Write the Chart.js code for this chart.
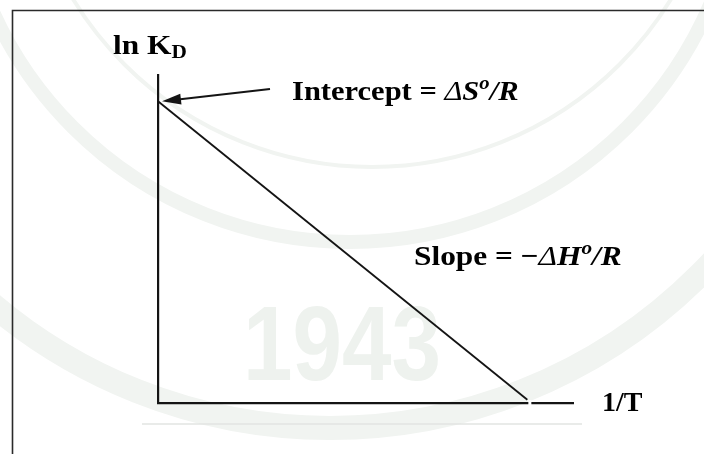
<!DOCTYPE html>
<html lang="en">

<head>
    <meta charset="UTF-8">
    <meta name="viewport" content="width=device-width, initial-scale=1.0">
    <title>van't Hoff plot</title>
    <script src="https://cdn.jsdelivr.net/npm/chart.js"></script>
    <style>
        body { margin: 0; background: #fff; }
        canvas { display: block; }
    </style>
</head>

<body>
    <canvas id="vantHoff" width="704" height="454"></canvas>

    <script>
        // ln KD against 1/T: straight line from the intercept down to the 1/T axis
        const invT = [0, 8.9];
        const lnKD = [9.2, 0.1];
        const xRange = [0, 10];
        const yRange = [0, 10];

        const serif = '"Liberation Serif", "Times New Roman", serif';
        const ink = '#141414';

        // draw a row of text pieces with their own style, sup/sub handled by size + offset
        // stretch widens the glyphs a little, the labels are set wide
        function drawRuns(ctx, x, y, runs, size, stretch) {
            ctx.save();
            ctx.translate(x, y);
            ctx.scale(stretch || 1, 1);
            let cx = 0;
            runs.forEach(r => {
                const small = r.sup || r.sub;
                const s = small ? Math.round(size * 0.68) : size;
                ctx.font = r.style + ' ' + s + 'px ' + serif;
                const dy = r.sup ? -size * 0.4 : (r.sub ? size * 0.16 : 0);
                ctx.fillText(r.text, cx, dy);
                cx += ctx.measureText(r.text).width + (r.gap || 0);
            });
            ctx.restore();
        }

        // faint seal in the page background
        const watermark = {
            id: 'watermark',
            beforeDraw(chart) {
                const ctx = chart.ctx;
                ctx.save();
                ctx.strokeStyle = '#f1f4f1';
                ctx.lineWidth = 24;
                ctx.beginPath();
                ctx.arc(330, -95, 523, 0, Math.PI);
                ctx.stroke();
                ctx.lineWidth = 14;
                ctx.beginPath();
                ctx.arc(350, -150, 392, 0, Math.PI);
                ctx.stroke();
                ctx.lineWidth = 4;
                ctx.beginPath();
                ctx.arc(372, -183, 350, 0, Math.PI);
                ctx.stroke();
                ctx.fillStyle = '#eef2ee';
                ctx.font = 'bold 106px "Liberation Sans", sans-serif';
                ctx.translate(243, 380);
                ctx.scale(0.84, 1);
                ctx.fillText('1943', 0, 0);
                ctx.restore();
            }
        };

        // frame, arrow and the text labels
        const labels = {
            id: 'labels',
            afterDraw(chart) {
                const ctx = chart.ctx;
                const x = chart.scales.x, y = chart.scales.y;
                ctx.save();

                // small break in the 1/T axis just past the end of the line
                const endX = x.getPixelForValue(invT[1]);
                ctx.fillStyle = '#fff';
                ctx.fillRect(endX + 1, y.bottom - 3, 3, 6);

                // outer frame (only top and left fall inside the page)
                ctx.strokeStyle = '#2a2a2a';
                ctx.lineWidth = 1.6;
                ctx.beginPath();
                ctx.moveTo(12.5, 454);
                ctx.lineTo(12.5, 10.5);
                ctx.lineTo(704, 10.5);
                ctx.stroke();

                // pale rule under the x axis
                ctx.strokeStyle = '#e2e5e2';
                ctx.lineWidth = 1.5;
                ctx.beginPath();
                ctx.moveTo(142, 424);
                ctx.lineTo(582, 424);
                ctx.stroke();

                // arrow pointing at the intercept
                const tipX = x.getPixelForValue(invT[0]) + 4;
                const tipY = y.getPixelForValue(lnKD[0]);
                const tailX = 270, tailY = 89;
                const ang = Math.atan2(tailY - tipY, tailX - tipX);
                ctx.strokeStyle = ink;
                ctx.fillStyle = ink;
                ctx.lineWidth = 2;
                ctx.beginPath();
                ctx.moveTo(tailX, tailY);
                ctx.lineTo(tipX + 14 * Math.cos(ang), tipY + 14 * Math.sin(ang));
                ctx.stroke();
                ctx.beginPath();
                ctx.moveTo(tipX, tipY);
                ctx.lineTo(tipX + 19 * Math.cos(ang) - 5.5 * Math.sin(ang), tipY + 19 * Math.sin(ang) + 5.5 * Math.cos(ang));
                ctx.lineTo(tipX + 19 * Math.cos(ang) + 5.5 * Math.sin(ang), tipY + 19 * Math.sin(ang) - 5.5 * Math.cos(ang));
                ctx.closePath();
                ctx.fill();

                ctx.fillStyle = '#000';
                ctx.textBaseline = 'alphabetic';
                drawRuns(ctx, 113, 54, [
                    { text: 'ln K', style: 'bold' },
                    { text: 'D', style: 'bold', sub: true }
                ], 28, 1.12);
                drawRuns(ctx, 292, 100, [
                    { text: 'Intercept = ', style: 'bold' },
                    { text: 'Δ', style: 'italic' },
                    { text: 'S', style: 'bold italic' },
                    { text: 'o', style: 'bold italic', sup: true },
                    { text: '/R', style: 'bold italic' }
                ], 28, 1.09);
                drawRuns(ctx, 414, 265, [
                    { text: 'Slope = ', style: 'bold' },
                    { text: '\u2212', style: 'bold' },
                    { text: 'Δ', style: 'italic' },
                    { text: 'H', style: 'bold italic' },
                    { text: 'o', style: 'bold italic', sup: true },
                    { text: '/R', style: 'bold italic' }
                ], 28, 1.12);
                drawRuns(ctx, 602, 411, [
                    { text: '1/T', style: 'bold' }
                ], 28, 1);
                ctx.restore();
            }
        };

        const ctx = document.getElementById('vantHoff').getContext('2d');
        new Chart(ctx, {
            type: 'line',
            data: {
                datasets: [{
                    data: invT.map((v, i) => ({ x: v, y: lnKD[i] })),
                    borderColor: ink,
                    borderWidth: 1.8,
                    pointRadius: 0,
                    tension: 0,
                    fill: false
                }]
            },
            options: {
                responsive: false,
                animation: false,
                layout: { padding: { left: 150, top: 75, right: 131, bottom: 43 } },
                plugins: { legend: { display: false }, tooltip: { enabled: false } },
                scales: {
                    x: {
                        type: 'linear',
                        min: xRange[0],
                        max: xRange[1],
                        grid: { display: false },
                        ticks: { display: false },
                        border: { display: true, color: ink, width: 2.2 }
                    },
                    y: {
                        min: yRange[0],
                        max: yRange[1],
                        grid: { display: false },
                        ticks: { display: false },
                        border: { display: true, color: ink, width: 2.2 }
                    }
                }
            },
            plugins: [watermark, labels]
        });
    </script>
</body>
</html>
